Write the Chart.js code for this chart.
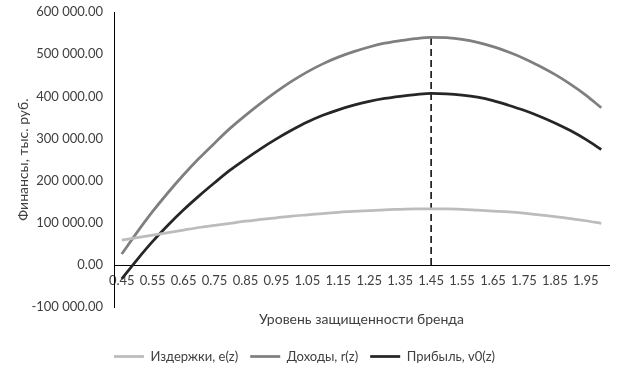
<!DOCTYPE html>
<html>
<head>
<meta charset="utf-8">
<script src="https://cdn.jsdelivr.net/npm/chart.js@4"></script>
<style>
  html, body { margin: 0; padding: 0; background: #fff; }
  #wrap { width: 619px; height: 373px; }
</style>
</head>
<body>
<div id="wrap"><canvas id="brand-chart" width="619" height="373"></canvas></div>
<script>
// protection level z, step 0.05 (every second one is labelled)
const levels = ['0.45', '0.50', '0.55', '0.60', '0.65', '0.70', '0.75', '0.80', '0.85', '0.90',
  '0.95', '1.00', '1.05', '1.10', '1.15', '1.20', '1.25', '1.30', '1.35', '1.40',
  '1.45', '1.50', '1.55', '1.60', '1.65', '1.70', '1.75', '1.80', '1.85', '1.90',
  '1.95', '2.00'];

// costs e(z)
const costs = [59000, 65000, 71000, 77000, 83000, 89000, 94000, 99000, 104000, 108000,
  112000, 116000, 119000, 122000, 125000, 127000, 129000, 131000, 132000, 133000,
  133000, 133000, 132000, 130000, 128000, 126000, 123000, 119000, 115000, 110000,
  105000, 99000];

// revenue r(z)
const revenue = [26000, 78000, 127000, 172000, 214000, 253000, 289000, 324000, 355000, 384000,
  411000, 436000, 458000, 477000, 493000, 506000, 517000, 526000, 532000, 537000,
  540000, 539000, 535000, 528000, 518000, 505000, 490000, 472000, 452000, 429000,
  403000, 373000];

// profit v0(z)
const profit = [-33000, 13000, 56000, 95000, 131000, 164000, 195000, 225000, 251000, 276000,
  299000, 320000, 339000, 355000, 368000, 379000, 388000, 395000, 400000, 404000,
  407000, 406000, 403000, 398000, 390000, 379000, 367000, 353000, 337000, 319000,
  298000, 274000];

const optimumLevel = '1.45';
const yTicks = { min: -100000, max: 600000, step: 100000 };

const FONT = 'Lato, "Open Sans", sans-serif';
const TEXT = '#404040';

function fmt(v) {
  const s = Math.abs(v).toFixed(2);
  const parts = s.split('.');
  return (v < 0 ? '-' : '') + parts[0].replace(/\B(?=(\d{3})+(?!\d))/g, ' ') + '.' + parts[1];
}

function series(label, data, color) {
  return {
    label,
    data,
    borderColor: color,
    backgroundColor: color,
    borderWidth: 2.75,
    pointRadius: 0,
    pointStyle: 'line',
    cubicInterpolationMode: 'monotone',
    fill: false,
  };
}

const ctx = document.getElementById('brand-chart').getContext('2d');
new Chart(ctx, {
  type: 'line',
  data: {
    labels: levels,
    datasets: [
      series('Издержки, e(z)', costs, '#bcbcbc'),
      series('Доходы, r(z)', revenue, '#7f7f7f'),
      series('Прибыль, v0(z)', profit, '#262626'),
      {
        label: 'optimum',
        data: [
          { x: optimumLevel, y: 0 },
          { x: optimumLevel, y: Math.max(...revenue) },
        ],
        borderColor: '#000',
        borderWidth: 1.5,
        borderDash: [7, 4],
        pointRadius: 0,
        fill: false,
      },
    ],
  },
  options: {
    responsive: false,
    animation: false,
    layout: { padding: { top: 12, right: 10, left: 0, bottom: 0 } },
    plugins: {
      legend: {
        position: 'bottom',
        labels: {
          filter: (item) => item.datasetIndex < 3,
          usePointStyle: true,
          pointStyleWidth: 30,
          boxHeight: 13,
          padding: 12,
          color: TEXT,
          font: { family: FONT, size: 13 },
        },
      },
      tooltip: { enabled: false },
    },
    scales: {
      x: {
        type: 'category',
        position: { y: 0 },
        offset: true,
        grid: { display: false, drawTicks: false },
        border: { display: true, color: '#000', width: 1 },
        ticks: {
          autoSkip: false,
          maxRotation: 0,
          minRotation: 0,
          padding: 8,
          color: TEXT,
          font: { family: FONT, size: 13 },
          callback: (val, idx) => (idx % 2 === 0 ? levels[idx] : ''),
        },
        afterFit: (scale) => { scale.height = 0; },
      },
      x2: {
        type: 'category',
        position: 'bottom',
        grid: { display: false, drawTicks: false },
        border: { display: false },
        ticks: { display: false },
        title: {
          display: true,
          text: 'Уровень защищенности бренда',
          color: TEXT,
          font: { family: FONT, size: 14 },
          padding: { top: 4, bottom: 10 },
        },
      },
      y: {
        min: yTicks.min,
        max: yTicks.max,
        grid: { display: false, drawTicks: false },
        border: { display: true, color: '#000', width: 1 },
        ticks: {
          stepSize: yTicks.step,
          padding: 11,
          color: TEXT,
          font: { family: FONT, size: 13 },
          callback: (v) => fmt(v),
        },
        title: {
          display: true,
          text: 'Финансы, тыс. руб.',
          color: TEXT,
          font: { family: FONT, size: 14 },
          padding: { top: 15, bottom: 0 },
        },
        afterFit: (scale) => {
          scale.width = 114;
          scale.paddingTop = 0;
          scale.paddingBottom = 0;
        },
      },
    },
  },
});
</script>
</body>
</html>
